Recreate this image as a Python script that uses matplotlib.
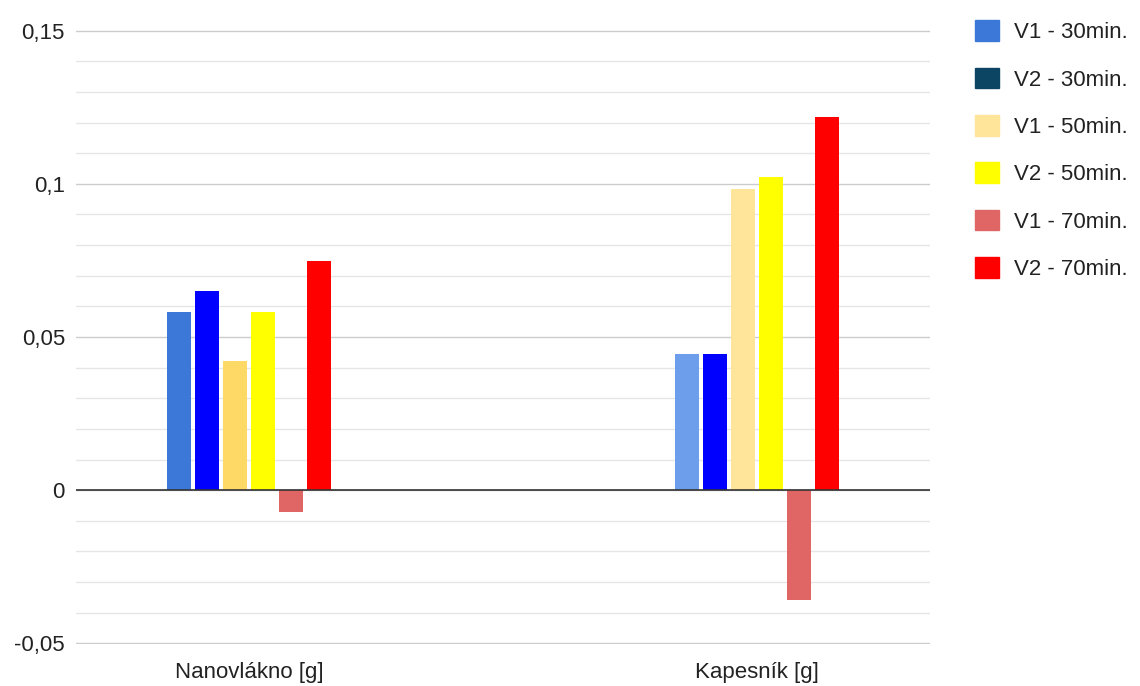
import matplotlib
matplotlib.use("Agg")
import matplotlib.pyplot as plt
import numpy as np
from matplotlib.patches import Patch
from matplotlib.ticker import FixedLocator, MultipleLocator

plt.rcParams["font.family"] = ["Liberation Sans", "DejaVu Sans"]

categories = ["Nanovlákno [g]", "Kapesník [g]"]
series = ["V1 - 30min.", "V2 - 30min.", "V1 - 50min.",
          "V2 - 50min.", "V1 - 70min.", "V2 - 70min."]
values = {
    "V1 - 30min.": [0.058, 0.0443],
    "V2 - 30min.": [0.0651, 0.0443],
    "V1 - 50min.": [0.0423, 0.0984],
    "V2 - 50min.": [0.058, 0.1023],
    "V1 - 70min.": [-0.0072, -0.0358],
    "V2 - 70min.": [0.0749, 0.1218],
}
# bar colours per category (the sheet recoloured some points)
bar_colors = {
    "V1 - 30min.": ["#3c78d8", "#6d9eeb"],
    "V2 - 30min.": ["#0000ff", "#0000ff"],
    "V1 - 50min.": ["#ffd966", "#ffe599"],
    "V2 - 50min.": ["#ffff00", "#ffff00"],
    "V1 - 70min.": ["#e06666", "#e06666"],
    "V2 - 70min.": ["#ff0000", "#ff0000"],
}
legend_colors = ["#3c78d8", "#0c4563", "#ffe599", "#ffff00", "#e06666", "#ff0000"]
ytick_vals = [-0.05, 0, 0.05, 0.1, 0.15]
ytick_labels = ["-0,05", "0", "0,05", "0,1", "0,15"]

fig = plt.figure(figsize=(11.4, 6.86), dpi=100)
ax = fig.add_axes([0.0667, 0.0612, 0.7491, 0.8951])

x = np.arange(len(categories))
width = 0.047
step = 0.055
for i, name in enumerate(series):
    off = (i - 2.5) * step
    ax.bar(x + off, values[name], width, color=bar_colors[name], zorder=3)

ax.set_xlim(-0.34, 1.34)
ax.set_ylim(-0.0502, 0.1502)
ax.yaxis.set_major_locator(FixedLocator(ytick_vals))
ax.set_yticklabels(ytick_labels)
ax.yaxis.set_minor_locator(MultipleLocator(0.01))
ax.grid(which="major", axis="y", color="#cccccc", lw=1, zorder=0)
ax.grid(which="minor", axis="y", color="#e6e6e6", lw=1, zorder=0)
ax.axhline(0, color="#333333", lw=1.2, zorder=4)
ax.set_xticks(x)
ax.set_xticklabels(categories)
for s in ax.spines.values():
    s.set_visible(False)
ax.tick_params(axis="both", which="both", length=0, labelsize=16,
               labelcolor="#222222")
ax.tick_params(axis="y", pad=8)
ax.tick_params(axis="x", pad=13)

handles = [Patch(color=c) for c in legend_colors]
fig.legend(handles, series, loc="upper left", bbox_to_anchor=(0.842, 0.993),
           frameon=False, fontsize=16, handlelength=1.05, handleheight=1.05,
           labelspacing=1.1, handletextpad=0.7, labelcolor="#222222",
           borderaxespad=0.3)

fig.savefig("out.png")
